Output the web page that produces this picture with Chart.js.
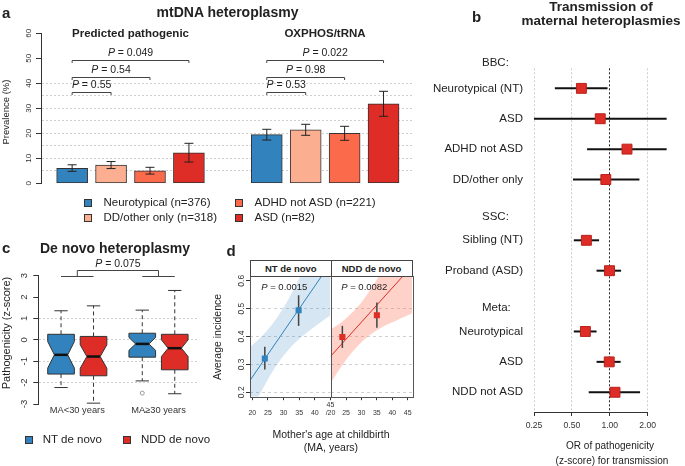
<!DOCTYPE html>
<html>
<head>
<meta charset="utf-8">
<title>mtDNA heteroplasmy</title>
<script src="https://cdn.jsdelivr.net/npm/chart.js@4.4.1/dist/chart.umd.min.js"></script>
<style>
  body { margin: 0; background: #fff; }
  #fig { position: relative; width: 685px; height: 466px; overflow: hidden; background: #fff;
         font-family: "Liberation Sans", Arial, sans-serif; color: #222; }
  #fig canvas { position: absolute; }
  .c, .l { position: absolute; white-space: nowrap; line-height: 1.15; }
  .c { transform: translate(-50%, -50%); text-align: center; }
  .l { transform: translateY(-50%); }
  .r { transform: translate(-50%, -50%) rotate(-90deg); }
  .bold { font-weight: bold; }
  .sq { position: absolute; width: 8px; height: 8px; box-sizing: border-box; border: 1px solid #333; }
  .strip { position: absolute; top: 260px; height: 17px; box-sizing: border-box; border: 1px solid #444;
           background: #fff; font-weight: bold; font-size: 9.5px; line-height: 15px; text-align: center; }
</style>
</head>
<body>
<div id="fig">
  <canvas id="chartA" width="420" height="195" style="left:0;top:0"></canvas>
  <canvas id="chartB" width="265" height="466" style="left:420px;top:0"></canvas>
  <canvas id="chartC" width="210" height="175" style="left:0;top:250px"></canvas>
  <canvas id="chartD1" width="128" height="150" style="left:212px;top:270px"></canvas>
  <canvas id="chartD2" width="102" height="150" style="left:326px;top:270px"></canvas>

  <!-- panel letters and titles -->
  <div class="l bold" style="left:2px;top:13px;font-size:15px">a</div>
  <div class="l bold" style="left:472px;top:16.5px;font-size:15px">b</div>
  <div class="l bold" style="left:2px;top:248px;font-size:15px">c</div>
  <div class="l bold" style="left:226.5px;top:250.5px;font-size:15px">d</div>

  <div class="c bold" style="left:227.5px;top:12px;font-size:14px">mtDNA heteroplasmy</div>
  <div class="c bold" style="left:130.5px;top:33.5px;font-size:11.5px">Predicted pathogenic</div>
  <div class="c bold" style="left:325px;top:33.5px;font-size:11.5px">OXPHOS/tRNA</div>
  <div class="c r" style="left:6px;top:112px;font-size:9.5px">Prevalence (%)</div>

  <div class="c bold" style="left:601px;top:14.2px;font-size:13.5px;line-height:14.3px">Transmission of<br>maternal heteroplasmies</div>
  <div class="c" style="left:610px;top:445.5px;font-size:10px">OR of pathogenicity</div>
  <div class="c" style="left:612px;top:460.5px;font-size:10px">(z-score) for transmission</div>

  <div class="c bold" style="left:115px;top:248px;font-size:14px">De novo heteroplasmy</div>
  <div class="c r" style="left:5.5px;top:332.5px;font-size:11px">Pathogenicity (z-score)</div>

  <div class="c r" style="left:217px;top:336.5px;font-size:10.5px">Average incidence</div>
  <div class="c" style="left:331px;top:433.5px;font-size:10.5px">Mother's age at childbirth</div>
  <div class="c" style="left:331px;top:446.5px;font-size:10.5px">(MA, years)</div>
  <div class="strip" style="left:250px;width:81.5px">NT de novo</div>
  <div class="strip" style="left:330.5px;width:82px">NDD de novo</div>
  <div class="c" style="left:284.3px;top:286.5px;font-size:9.5px"><i>P</i> = 0.0015</div>
  <div class="c" style="left:364.3px;top:286.5px;font-size:9.5px"><i>P</i> = 0.0082</div>
</div>

<script>
// ---------- panel a: heteroplasmy prevalence by diagnosis ----------
const aGroups = ['Predicted pathogenic', 'OXPHOS/tRNA'];
const aCats = ['Neurotypical (n=376)', 'DD/other only (n=318)', 'ADHD not ASD (n=221)', 'ASD (n=82)'];
const aColors = ['#3182bd', '#fcae91', '#fb6a4a', '#de2d26'];
const aPrev = [[6.0, 7.3, 5.0, 12.2], [19.5, 21.4, 20.0, 31.8]];
const aLo = [[4.8, 5.9, 3.7, 8.5], [17.3, 19.2, 17.2, 26.8]];
const aHi = [[7.4, 8.7, 6.4, 16.0], [21.6, 23.6, 22.8, 36.8]];
const aPvals = [['0.55', '0.54', '0.049'], ['0.53', '0.98', '0.022']];
const aYTicks = [0, 10, 20, 30, 40, 50, 60];

// ---------- panel b: transmission forest plot ----------
const bLabels = ['Neurotypical (NT)', 'ASD', 'ADHD not ASD', 'DD/other only', null,
                 'Sibling (NT)', 'Proband (ASD)', null, 'Neurotypical', 'ASD', 'NDD not ASD'];
const bOR = [0.595, 0.84, 1.37, 0.93, null, 0.652, 0.995, null, 0.64, 0.99, 1.10];
const bLo = [0.366, 0.25, 0.66, 0.51, null, 0.518, 0.785, null, 0.518, 0.785, 0.68];
const bHi = [0.96, 2.83, 2.83, 1.72, null, 0.822, 1.23, null, 0.785, 1.22, 1.74];
const bHeaders = ['BBC:', 'SSC:', 'Meta:'];
const bTicks = [0.25, 0.5, 1, 2];

// ---------- panel c: de novo pathogenicity boxplots ----------
const cGroups = ['MA<30 years', 'MA\u226530 years'];
const cSeries = ['NT de novo', 'NDD de novo'];
const cColors = ['#3182bd', '#de2d26'];
// boxes ordered: <30 NT, <30 NDD, >=30 NT, >=30 NDD
const cWhiskLo = [-2.23, -2.96, -1.92, -2.52];
const cQ1 = [-1.60, -1.68, -0.81, -1.40];
const cMedian = [-0.70, -0.78, -0.19, -0.39];
const cQ3 = [0.26, 0.16, 0.31, 0.26];
const cWhiskHi = [1.36, 1.59, 1.39, 2.31];
const cNotchLo = [-1.32, -1.33, -0.49, -0.78];
const cNotchHi = [-0.08, -0.23, 0.11, 0.00];
const cOutliers = [[], [], [-2.49], []];
const cPval = '0.075';
const cYTicks = [-3, -2, -1, 0, 1, 2, 3];

// ---------- panel d: incidence vs maternal age ----------
const dYTicks = [0.2, 0.3, 0.4, 0.5, 0.6];
const ntAge = [24.0, 34.8];
const ntMean = [0.321, 0.494];
const ntLo = [0.282, 0.438];
const ntHi = [0.363, 0.548];
const ntFitAge = [19, 45];
const ntFit = [0.238, 0.663];
const ntBandAge = [19, 22, 25, 28, 31, 34, 37, 40, 45];
const ntUpper = [0.360, 0.389, 0.425, 0.469, 0.523, 0.585, 0.654, 0.726, 0.850];
const ntLower = [0.116, 0.185, 0.247, 0.301, 0.345, 0.381, 0.410, 0.436, 0.476];

const nddAge = [23.8, 35.0];
const nddMean = [0.398, 0.476];
const nddLo = [0.359, 0.431];
const nddHi = [0.438, 0.522];
const nddFitAge = [20, 46.5];
const nddFit = [0.329, 0.654];
const nddBandAge = [20, 23, 26, 29, 32, 35, 38, 41, 44, 46.5];
const nddUpper = [0.426, 0.447, 0.475, 0.509, 0.553, 0.604, 0.659, 0.716, 0.775, 0.825];
const nddLower = [0.232, 0.285, 0.331, 0.369, 0.399, 0.422, 0.441, 0.456, 0.471, 0.483];

const FONT = "'Liberation Sans', Arial, sans-serif";
Chart.defaults.font.family = FONT;
Chart.defaults.color = '#333';
Chart.defaults.plugins.legend.display = false;
Chart.defaults.plugins.tooltip.enabled = false;

const fig = document.getElementById('fig');
const NONE = 'rgba(0,0,0,0)';

function baseOptions(padding) {
  return { responsive: false, animation: false, events: [], layout: { padding } };
}

function addDiv(cls, html, style) {
  const d = document.createElement('div');
  d.className = cls;
  d.innerHTML = html;
  Object.assign(d.style, style);
  fig.appendChild(d);
  return d;
}

// "P = x" with an italic P
function drawP(ctx, text, cx, cy, size) {
  ctx.save();
  ctx.fillStyle = '#222';
  ctx.textBaseline = 'middle';
  ctx.textAlign = 'left';
  ctx.font = 'italic ' + size + 'px ' + FONT;
  const w1 = ctx.measureText('P').width;
  const rest = ' = ' + text;
  ctx.font = size + 'px ' + FONT;
  const w2 = ctx.measureText(rest).width;
  const x0 = cx - (w1 + w2) / 2;
  ctx.font = 'italic ' + size + 'px ' + FONT;
  ctx.fillText('P', x0, cy);
  ctx.font = size + 'px ' + FONT;
  ctx.fillText(rest, x0 + w1, cy);
  ctx.restore();
}

// R style y tick labels, parallel to the axis
function rotYLabels(values, offset, size, decimals) {
  return {
    id: 'rotYLabels',
    afterDraw(chart) {
      const ctx = chart.ctx, s = chart.scales.y;
      ctx.save();
      ctx.font = size + 'px ' + FONT;
      ctx.fillStyle = '#333';
      ctx.textAlign = 'center';
      ctx.textBaseline = 'middle';
      values.forEach(v => {
        ctx.save();
        ctx.translate(chart.chartArea.left - offset, s.getPixelForValue(v));
        ctx.rotate(-Math.PI / 2);
        ctx.fillText(v.toFixed(decimals), 0, 0);
        ctx.restore();
      });
      ctx.restore();
    }
  };
}

const frame = {
  id: 'frame',
  afterDraw(chart) {
    const a = chart.chartArea, ctx = chart.ctx;
    ctx.save();
    ctx.strokeStyle = '#555';
    ctx.lineWidth = 1;
    ctx.strokeRect(Math.round(a.left) + 0.5, Math.round(a.top) + 0.5,
                   Math.round(a.right - a.left), Math.round(a.bottom - a.top));
    ctx.restore();
  }
};

// ================= panel a =================
const aBarData = [];
const aBarColors = [];
aGroups.forEach((g, gi) => aCats.forEach((c, k) => {
  aBarData.push({ x: gi * (aCats.length + 1) + k, y: aPrev[gi][k] });
  aBarColors.push(aColors[k]);
}));

const aErrorBars = {
  id: 'aErrorBars',
  afterDatasetsDraw(chart) {
    const { ctx, scales: { y } } = chart;
    const bars = chart.getDatasetMeta(0).data;
    ctx.save();
    ctx.strokeStyle = '#222';
    ctx.lineWidth = 1;
    bars.forEach((bar, i) => {
      const gi = Math.floor(i / aCats.length), k = i % aCats.length;
      const top = y.getPixelForValue(aHi[gi][k]), bot = y.getPixelForValue(aLo[gi][k]);
      ctx.beginPath();
      ctx.moveTo(bar.x, top); ctx.lineTo(bar.x, bot);
      ctx.moveTo(bar.x - 4.5, top); ctx.lineTo(bar.x + 4.5, top);
      ctx.moveTo(bar.x - 4.5, bot); ctx.lineTo(bar.x + 4.5, bot);
      ctx.stroke();
    });
    ctx.restore();
  }
};

const aBracketLevels = [36.4, 42.6, 49.3];
const aBrackets = {
  id: 'aBrackets',
  afterDatasetsDraw(chart) {
    const { ctx, scales: { y } } = chart;
    const bars = chart.getDatasetMeta(0).data;
    ctx.save();
    ctx.strokeStyle = '#444';
    ctx.lineWidth = 1;
    aGroups.forEach((g, gi) => {
      const x0 = bars[gi * aCats.length].x;
      aPvals[gi].forEach((p, j) => {
        const x1 = bars[gi * aCats.length + j + 1].x;
        const yy = Math.round(y.getPixelForValue(aBracketLevels[j])) + 0.5;
        ctx.beginPath();
        ctx.moveTo(x0, yy + 2.5); ctx.lineTo(x0, yy); ctx.lineTo(x1, yy); ctx.lineTo(x1, yy + 2.5);
        ctx.stroke();
        drawP(ctx, p, (x0 + x1) / 2, yy - 7, 10.5);
      });
    });
    ctx.restore();
  }
};

new Chart(document.getElementById('chartA'), {
  type: 'bar',
  data: {
    datasets: [{
      data: aBarData,
      backgroundColor: aBarColors,
      borderColor: '#333',
      borderWidth: 1,
      borderSkipped: false,
      barThickness: 31
    }]
  },
  options: {
    ...baseOptions({ left: 0, top: 33.3, right: 7, bottom: 11.7 }),
    scales: {
      x: { type: 'linear', display: false, offset: false, min: -0.8, max: 8.757 },
      y: {
        min: 0, max: 60,
        ticks: { display: false, stepSize: 5 },
        afterFit: s => { s.width = 41; },
        grid: {
          color: c => (c.tick.value > 0 && c.tick.value <= 40 ? '#cfcfcf' : NONE),
          tickColor: c => (c.tick.value % 10 === 0 ? '#333' : NONE),
          tickLength: 5
        },
        border: { display: true, color: '#333', dash: [2, 2] }
      }
    }
  },
  plugins: [rotYLabels(aYTicks, 11.8, 8, 0), aErrorBars, aBrackets]
});

// legend for a (two columns)
aCats.forEach((name, k) => {
  const col = Math.floor(k / 2), row = k % 2;
  const sx = [84, 235][col], cy = [203.3, 218.3][row];
  addDiv('sq', '', { left: sx + 'px', top: (cy - 4) + 'px', background: aColors[k] });
  addDiv('l', name, { left: (sx + 19.5) + 'px', top: cy + 'px', fontSize: '11.5px' });
});

// ================= panel b =================
const bPoints = [];
bLabels.forEach((lab, i) => { if (lab !== null) bPoints.push({ x: bOR[i], y: i }); });

const bCI = {
  id: 'bCI',
  beforeDatasetsDraw(chart) {
    const { ctx, scales: { x, y } } = chart;
    ctx.save();
    ctx.strokeStyle = '#111';
    ctx.lineWidth = 2;
    bLabels.forEach((lab, i) => {
      if (lab === null) return;
      const yy = y.getPixelForValue(i);
      ctx.beginPath();
      ctx.moveTo(x.getPixelForValue(bLo[i]), yy);
      ctx.lineTo(x.getPixelForValue(bHi[i]), yy);
      ctx.stroke();
    });
    ctx.restore();
  }
};

const bAxisLine = {
  id: 'bAxisLine',
  afterDraw(chart) {
    const { ctx, scales: { x } } = chart;
    const yy = Math.round(chart.chartArea.bottom) + 0.5;
    ctx.save();
    ctx.strokeStyle = '#333';
    ctx.lineWidth = 1;
    ctx.beginPath();
    ctx.moveTo(x.getPixelForValue(bTicks[0]), yy);
    ctx.lineTo(x.getPixelForValue(bTicks[bTicks.length - 1]), yy);
    ctx.stroke();
    ctx.restore();
  }
};

new Chart(document.getElementById('chartB'), {
  type: 'scatter',
  data: {
    datasets: [{
      data: bPoints,
      pointStyle: 'rect',
      pointRadius: 7,
      backgroundColor: '#de2d26',
      borderColor: '#b8211c',
      borderWidth: 1
    }]
  },
  options: {
    ...baseOptions({ left: 0, top: 68.3, right: 0, bottom: 30 }),
    scales: {
      x: {
        type: 'logarithmic', min: 0.25, max: 3.42,
        afterBuildTicks: s => { s.ticks = bTicks.map(v => ({ value: v })); },
        afterFit: s => { s.height = 24; },
        ticks: { callback: v => Number(v).toFixed(2), font: { size: 8.6 }, color: '#333',
                 padding: 4, maxRotation: 0, autoSkip: false },
        grid: { color: c => (c.tick.value === 1 ? '#222' : '#cdcdcd'), tickColor: '#333', tickLength: 4 },
        border: { display: false, dash: [2, 2] }
      },
      y: {
        type: 'linear', min: -0.66, max: 10.65, reverse: true,
        afterBuildTicks: s => {
          s.ticks = bLabels.map((l, i) => ({ value: i })).filter(t => bLabels[t.value] !== null);
        },
        afterFit: s => { s.width = 114; },
        ticks: { callback: v => bLabels[v], font: { size: 11.5 }, color: '#222', padding: 11, autoSkip: false },
        grid: { display: false, drawTicks: false },
        border: { display: false }
      }
    }
  },
  plugins: [bCI, bAxisLine]
});

[63.3, 216.7, 308.3].forEach((top, i) => {
  addDiv('l', bHeaders[i], { left: '482px', top: top + 'px', fontSize: '11.5px' });
});

// ================= panel c =================
const cPos = [];
cGroups.forEach((g, gi) => cSeries.forEach((s, si) => cPos.push(1 + gi * 2.5 + si)));
const cOutPts = [];
cOutliers.forEach((arr, i) => arr.forEach(v => cOutPts.push({ x: cPos[i], y: v })));
const cBoxWidth = 0.82;

const cBoxes = {
  id: 'cBoxes',
  beforeDatasetsDraw(chart) {
    const { ctx, scales: { x, y } } = chart;
    const half = (x.getPixelForValue(1) - x.getPixelForValue(0)) * cBoxWidth / 2;
    const py = v => y.getPixelForValue(v);
    cPos.forEach((p, i) => {
      const cx = x.getPixelForValue(p);
      ctx.save();
      ctx.strokeStyle = '#333';
      ctx.lineWidth = 1;
      // whiskers
      ctx.setLineDash([4, 3]);
      ctx.beginPath();
      ctx.moveTo(cx, py(cQ3[i])); ctx.lineTo(cx, py(cWhiskHi[i]));
      ctx.moveTo(cx, py(cQ1[i])); ctx.lineTo(cx, py(cWhiskLo[i]));
      ctx.stroke();
      ctx.setLineDash([]);
      ctx.beginPath();
      ctx.moveTo(cx - half / 2, py(cWhiskHi[i])); ctx.lineTo(cx + half / 2, py(cWhiskHi[i]));
      ctx.moveTo(cx - half / 2, py(cWhiskLo[i])); ctx.lineTo(cx + half / 2, py(cWhiskLo[i]));
      ctx.stroke();
      // notched box
      ctx.beginPath();
      ctx.moveTo(cx - half, py(cQ3[i]));
      ctx.lineTo(cx + half, py(cQ3[i]));
      ctx.lineTo(cx + half, py(cNotchHi[i]));
      ctx.lineTo(cx + half / 2, py(cMedian[i]));
      ctx.lineTo(cx + half, py(cNotchLo[i]));
      ctx.lineTo(cx + half, py(cQ1[i]));
      ctx.lineTo(cx - half, py(cQ1[i]));
      ctx.lineTo(cx - half, py(cNotchLo[i]));
      ctx.lineTo(cx - half / 2, py(cMedian[i]));
      ctx.lineTo(cx - half, py(cNotchHi[i]));
      ctx.closePath();
      ctx.fillStyle = cColors[i % cSeries.length];
      ctx.fill();
      ctx.stroke();
      // median
      ctx.strokeStyle = '#111';
      ctx.lineWidth = 2.5;
      ctx.beginPath();
      ctx.moveTo(cx - half / 2, py(cMedian[i])); ctx.lineTo(cx + half / 2, py(cMedian[i]));
      ctx.stroke();
      ctx.restore();
    });
  }
};

const cBracketLevels = [3, 3.27];
const cBracket = {
  id: 'cBracket',
  afterDraw(chart) {
    const { ctx, scales: { x, y } } = chart;
    const y0 = Math.round(y.getPixelForValue(cBracketLevels[0])) + 0.5;
    const y1 = Math.round(y.getPixelForValue(cBracketLevels[1])) + 0.5;
    const mids = [];
    ctx.save();
    ctx.strokeStyle = '#444';
    ctx.lineWidth = 1;
    cGroups.forEach((g, gi) => {
      const xa = x.getPixelForValue(cPos[gi * cSeries.length]);
      const xb = x.getPixelForValue(cPos[gi * cSeries.length + cSeries.length - 1]);
      const m = (xa + xb) / 2;
      mids.push(m);
      ctx.beginPath();
      ctx.moveTo(xa, y0); ctx.lineTo(xb, y0);
      ctx.moveTo(m, y0); ctx.lineTo(m, y1);
      ctx.stroke();
    });
    ctx.beginPath();
    ctx.moveTo(mids[0], y1); ctx.lineTo(mids[1], y1);
    ctx.stroke();
    ctx.restore();
    drawP(ctx, cPval, (mids[0] + mids[1]) / 2, y1 - 6, 10.5);
  }
};

new Chart(document.getElementById('chartC'), {
  type: 'scatter',
  data: {
    datasets: [{
      data: cOutPts,
      pointStyle: 'circle',
      pointRadius: 2,
      backgroundColor: NONE,
      borderColor: '#999',
      borderWidth: 1
    }]
  },
  options: {
    ...baseOptions({ left: 0, top: 25.7, right: 12.5, bottom: 5 }),
    scales: {
      x: {
        type: 'linear', min: 0.3, max: 5.2,
        afterBuildTicks: s => {
          s.ticks = cGroups.map((g, gi) => ({
            value: (cPos[gi * cSeries.length] + cPos[gi * cSeries.length + cSeries.length - 1]) / 2
          }));
        },
        afterFit: s => { s.height = 16; },
        ticks: { callback: (v, i) => cGroups[i], font: { size: 9.3 }, color: '#333', padding: 1,
                 maxRotation: 0, autoSkip: false },
        grid: { display: false, drawTicks: false },
        border: { display: false }
      },
      y: {
        min: -3, max: 3,
        ticks: { display: false, stepSize: 1 },
        afterFit: s => { s.width = 38.3; },
        grid: {
          color: c => (c.tick.value >= -2 && c.tick.value <= 1 ? '#d0d0d0' : NONE),
          tickColor: '#333', tickLength: 5
        },
        border: { display: true, color: '#333', dash: [2, 2] }
      }
    }
  },
  plugins: [rotYLabels(cYTicks, 13.8, 9.5, 0), cBoxes, cBracket]
});

// legend for c
cSeries.forEach((name, i) => {
  const sx = [25, 123.3][i];
  addDiv('sq', '', { left: sx + 'px', top: '436px', background: cColors[i] });
  addDiv('l', name, { left: (sx + 17.7) + 'px', top: '440px', fontSize: '11.5px' });
});

// ================= panel d =================
function dErrorBars(ages, lo, hi) {
  return {
    id: 'dErrorBars',
    beforeDatasetDraw(chart, args) {
      if (args.index !== 0) return;
      const { ctx, scales: { x, y } } = chart;
      ctx.save();
      ctx.strokeStyle = '#444';
      ctx.lineWidth = 1.5;
      ages.forEach((a, i) => {
        const px = x.getPixelForValue(a);
        ctx.beginPath();
        ctx.moveTo(px, y.getPixelForValue(lo[i]));
        ctx.lineTo(px, y.getPixelForValue(hi[i]));
        ctx.stroke();
      });
      ctx.restore();
    }
  };
}

const pairs = (xs, ys) => xs.map((v, i) => ({ x: v, y: ys[i] }));

function dChart(id, o) {
  return new Chart(document.getElementById(id), {
    type: 'line',
    data: {
      datasets: [
        { data: pairs(o.age, o.mean), showLine: false, pointStyle: 'rect', pointRadius: 4.3,
          backgroundColor: o.color, borderColor: o.color, borderWidth: 0 },
        { data: pairs(o.fitAge, o.fit), borderColor: o.color, borderWidth: 1, pointRadius: 0 },
        { data: pairs(o.bandAge, o.upper), borderColor: NONE, borderWidth: 0, pointRadius: 0,
          fill: '+1', backgroundColor: o.band, cubicInterpolationMode: 'monotone' },
        { data: pairs(o.bandAge, o.lower), borderColor: NONE, borderWidth: 0, pointRadius: 0,
          fill: false, cubicInterpolationMode: 'monotone' }
      ]
    },
    options: {
      ...baseOptions(o.padding),
      scales: {
        x: {
          type: 'linear', min: o.xMin, max: o.xMax,
          afterBuildTicks: s => { s.ticks = o.xTicks.map(v => ({ value: v })); },
          afterFit: s => { s.height = 20; },
          ticks: { callback: o.xLabel, font: { size: 7, lineHeight: 1.2 }, color: '#333', padding: 0.6,
                   maxRotation: 0, autoSkip: false },
          grid: { drawOnChartArea: false, tickColor: '#333', tickLength: 3.5 },
          border: { display: false }
        },
        y: {
          min: 0.184, max: 0.617,
          afterBuildTicks: s => { s.ticks = dYTicks.map(v => ({ value: v })); },
          afterFit: s => { s.width = o.yWidth; },
          ticks: { display: false },
          grid: {
            color: c => (c.tick.value < 0.55 ? '#d0d0d0' : NONE),
            drawTicks: o.yWidth > 0, tickColor: '#333', tickLength: 4
          },
          border: { display: false, dash: [3, 3] }
        }
      }
    },
    plugins: o.plugins.concat([dErrorBars(o.age, o.lo, o.hi), frame])
  });
}

dChart('chartD1', {
  age: ntAge, mean: ntMean, lo: ntLo, hi: ntHi,
  fitAge: ntFitAge, fit: ntFit,
  bandAge: ntBandAge, upper: ntUpper, lower: ntLower,
  color: '#3182bd', band: 'rgba(49,130,189,0.2)',
  xMin: 19.26, xMax: 45, xTicks: [20, 25, 30, 35, 40, 45],
  xLabel: v => (v === 45 ? ['45', '/20'] : ['', String(v)]),
  yWidth: 38, padding: { left: 0, top: 6, right: 9.5, bottom: 3.3 },
  plugins: [rotYLabels(dYTicks, 8.3, 8.5, 1)]
});

dChart('chartD2', {
  age: nddAge, mean: nddMean, lo: nddLo, hi: nddHi,
  fitAge: nddFitAge, fit: nddFit,
  bandAge: nddBandAge, upper: nddUpper, lower: nddLower,
  color: '#de2d26', band: 'rgba(251,106,74,0.3)',
  xMin: 19.95, xMax: 46.4, xTicks: [25, 30, 35, 40, 45],
  xLabel: v => ['', String(v)],
  yWidth: 0, padding: { left: 4.5, top: 6, right: 16, bottom: 3.3 },
  plugins: []
});
</script>
</body>
</html>
